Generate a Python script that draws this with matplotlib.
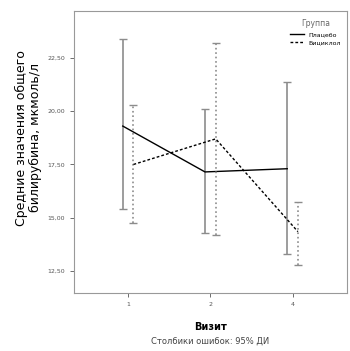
import matplotlib
matplotlib.use("Agg")
import matplotlib.pyplot as plt
import numpy as np

# visits and groups
visits = ["1", "2", "4"]
groups = ["Плацебо", "Бициклол"]

# mean and 95% CI
placebo_mean = [19.3, 17.15, 17.3]
placebo_low = [15.4, 14.3, 13.3]
placebo_high = [23.4, 20.1, 21.35]

bicyclol_mean = [17.5, 18.7, 14.35]
bicyclol_low = [14.75, 14.2, 12.8]
bicyclol_high = [20.3, 23.2, 15.75]

fig = plt.figure(figsize=(3.5, 3.51), dpi=100)
ax = fig.add_axes([0.211, 0.165, 0.78, 0.804])

x = np.arange(len(visits))
off = 0.065
gray = "#8c8c8c"

series = [
    (placebo_mean, placebo_low, placebo_high, "-", -off),
    (bicyclol_mean, bicyclol_low, bicyclol_high, ":", off),
]
for (m, lo, hi, ls, dx), name in zip(series, groups):
    m = np.array(m)
    err = [m - np.array(lo), np.array(hi) - m]
    eb = ax.errorbar(x + dx, m, yerr=err, fmt="none", ecolor=gray,
                     elinewidth=1.2, capsize=3, capthick=1.0)
    eb[2][0].set_linestyle(ls)
    ax.plot(x + dx, m, color="black", linestyle="-" if ls == "-" else (0, (2, 1.5)),
            linewidth=1.0, label=name)

ax.set_xlim(-0.66, 2.66)
ax.set_ylim(11.47, 24.7)
ax.set_xticks(x)
ax.set_xticklabels(visits)
ax.set_yticks([12.5, 15.0, 17.5, 20.0, 22.5])
ax.set_yticklabels(["12,50", "15,00", "17,50", "20,00", "22,50"])
ax.tick_params(labelsize=4.5, colors="#555555", length=3, width=0.6)
for s in ax.spines.values():
    s.set_color("#999999")
    s.set_linewidth(0.8)

ax.set_ylabel("Средние значения общего\nбилирубина, мкмоль/л", fontsize=9,
              labelpad=6, linespacing=1.15)
ax.yaxis.set_label_coords(-0.115, 0.55)
ax.set_xlabel("Визит", fontsize=7, fontweight="bold", labelpad=11)

leg = ax.legend(title="Группа", loc="upper right", frameon=False,
                fontsize=4.5, title_fontsize=5.5, handlelength=2.2,
                bbox_to_anchor=(1.0, 0.99))
plt.setp(leg.get_title(), color="#666666")

fig.text(0.6, 0.022, "Столбики ошибок: 95% ДИ", ha="center", fontsize=6, color="#444444")

fig.savefig("out.png", dpi=100)
